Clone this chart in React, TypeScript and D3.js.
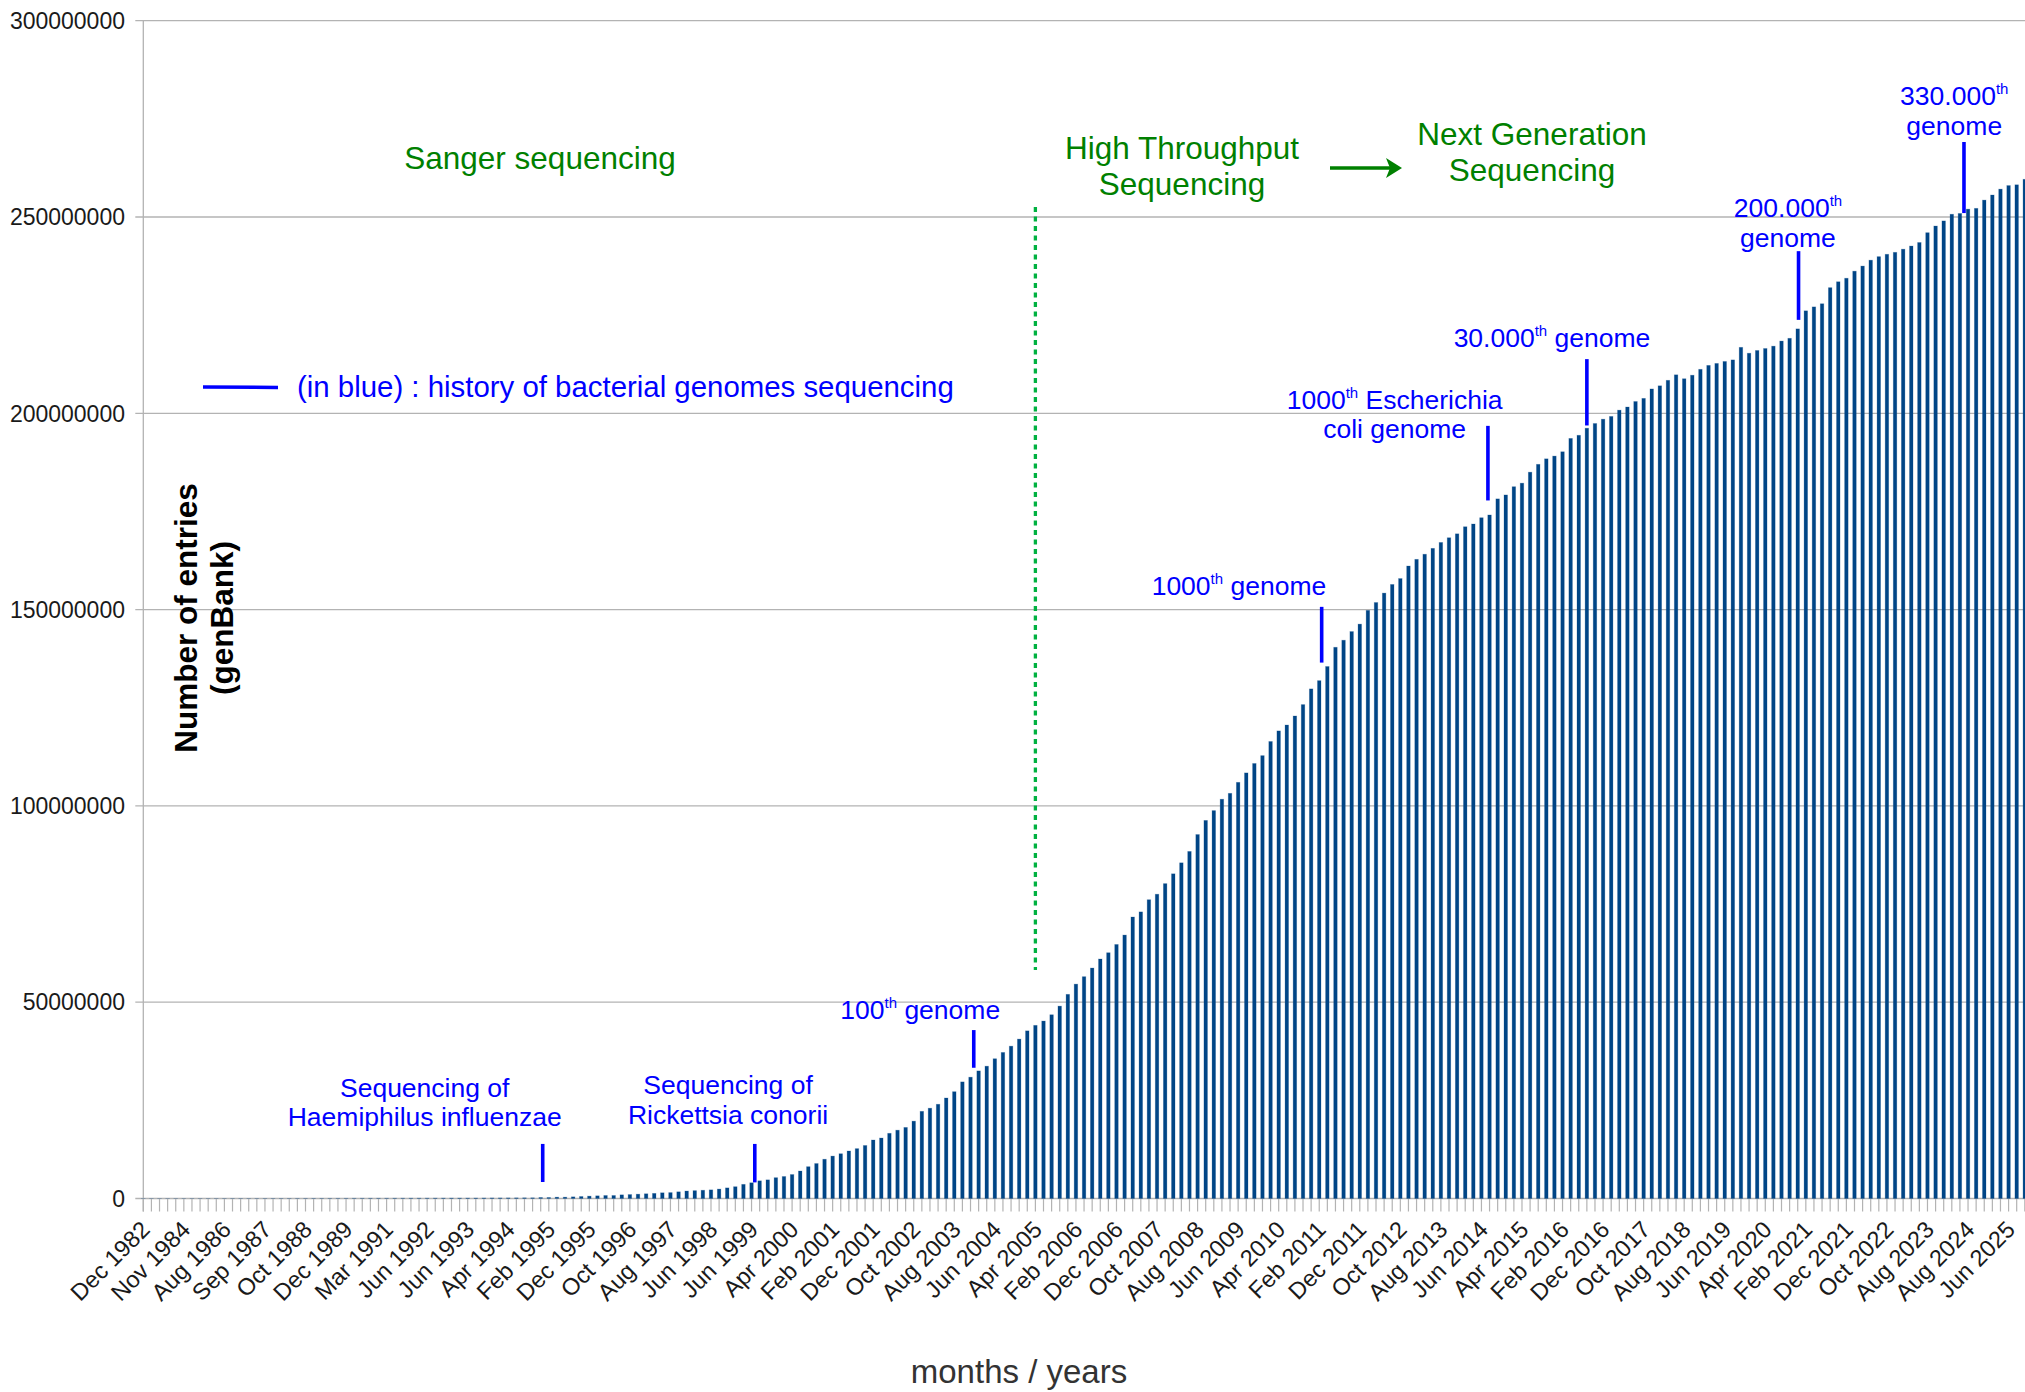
import React from 'react';
import * as d3 from 'd3';

const W = 2025;
const H = 1392;

// GenBank entries per release, in millions (one bar per release)
const ENTRIES_MILLIONS: number[] = [
  0.0006, 0.001, 0.002, 0.003, 0.004, 0.005, 0.006, 0.007, 0.009, 0.01,
  0.012, 0.014, 0.016, 0.018, 0.02, 0.022, 0.024, 0.026, 0.029, 0.031,
  0.034, 0.037, 0.04, 0.043, 0.046, 0.05, 0.054, 0.058, 0.062, 0.066,
  0.071, 0.076, 0.081, 0.086, 0.091, 0.096, 0.1, 0.105, 0.11, 0.115,
  0.12, 0.125, 0.13, 0.14, 0.145, 0.15, 0.16,
  0.17, 0.17, 0.25, 0.25, 0.34, 0.34, 0.42, 0.5, 0.6, 0.68,
  0.76, 0.76, 0.93, 1.0, 1.1, 1.2, 1.3, 1.45, 1.5, 1.7,
  1.9, 2.0, 2.1, 2.2, 2.4, 2.7, 3.0, 3.6, 4.0, 4.5,
  4.75, 5.3, 5.6, 6.1, 7.0, 8.1, 8.9, 10.0, 10.8, 11.4,
  12.1, 12.7, 13.5, 14.9, 15.4, 16.6, 17.4, 18.1, 19.7, 22.2,
  23.0, 24.0, 25.6, 27.2, 29.7, 30.9, 32.5, 33.7, 35.6, 37.2,
  38.8, 40.6, 42.7, 44.1, 45.2, 46.8, 49.0, 52.0, 54.6, 56.5,
  58.7, 61.0, 62.6, 64.7, 67.1, 71.7, 73.0, 76.1, 77.5, 80.2,
  82.7, 85.5, 88.4, 92.7, 96.3, 98.8, 101.7, 103.2, 106.0, 108.4,
  110.8, 112.8, 116.4, 119.1, 120.6, 122.9, 125.8, 129.8, 131.9, 135.5,
  140.4, 142.2, 144.4, 146.3, 149.8, 151.8, 154.2, 156.4, 157.9, 161.1,
  162.8, 164.1, 165.6, 167.1, 168.3, 169.3, 171.1, 171.8, 173.4, 174.1,
  178.2, 179.2, 181.3, 182.2, 185.0, 187.0, 188.4, 189.1, 190.2, 193.6,
  194.4, 196.2, 197.4, 198.5, 199.2, 200.8, 201.6, 203.0, 203.8, 206.2,
  207.0, 208.4, 209.8, 208.8, 209.7, 211.2, 212.2, 212.7, 213.2, 213.6,
  216.8, 215.3, 216.0, 216.5, 217.1, 218.4, 219.1, 221.5, 226.1, 227.1,
  227.9, 232.0, 233.5, 234.4, 236.2, 237.5, 239.0, 239.9, 240.5, 241.0,
  241.8, 242.6, 243.5, 246.0, 247.7, 249.0, 250.7, 250.9, 252.0, 252.2,
  254.3, 255.6, 257.1, 258.0, 258.2, 259.6,
];

// one label every 5 releases
const LABEL_EVERY = 5;
const RELEASE_LABELS: string[] = [
  'Dec 1982', 'Nov 1984', 'Aug 1986', 'Sep 1987', 'Oct 1988', 'Dec 1989', 'Mar 1991',
  'Jun 1992', 'Jun 1993', 'Apr 1994', 'Feb 1995', 'Dec 1995', 'Oct 1996', 'Aug 1997',
  'Jun 1998', 'Jun 1999', 'Apr 2000', 'Feb 2001', 'Dec 2001', 'Oct 2002', 'Aug 2003',
  'Jun 2004', 'Apr 2005', 'Feb 2006', 'Dec 2006', 'Oct 2007', 'Aug 2008', 'Jun 2009',
  'Apr 2010', 'Feb 2011', 'Dec 2011', 'Oct 2012', 'Aug 2013', 'Jun 2014', 'Apr 2015',
  'Feb 2016', 'Dec 2016', 'Oct 2017', 'Aug 2018', 'Jun 2019', 'Apr 2020', 'Feb 2021',
  'Dec 2021', 'Oct 2022', 'Aug 2023', 'Aug 2024', 'Jun 2025',
];

const Y_TICKS: number[] = [0, 50000000, 100000000, 150000000, 200000000, 250000000, 300000000];

// bacterial genome milestones: release position (fractional), text centre, marker span in millions
type Milestone = { at: number; textAt: number; textY: number; lines: string[]; top: number; bottom: number };

const MILESTONES: Milestone[] = [
  { at: 49.25, textAt: 34.7, textY: 25.9, lines: ['Sequencing of', 'Haemiphilus influenzae'], top: 13.9, bottom: 4.2 },
  { at: 75.4, textAt: 72.1, textY: 26.6, lines: ['Sequencing of', 'Rickettsia conorii'], top: 13.9, bottom: 4.1 },
  { at: 102.4, textAt: 95.8, textY: 45.7, lines: ['100{th} genome'], top: 42.9, bottom: 33.3 },
  { at: 145.3, textAt: 135.1, textY: 153.8, lines: ['1000{th} genome'], top: 150.7, bottom: 136.5 },
  { at: 165.8, textAt: 154.3, textY: 201.1, lines: ['1000{th} Escherichia', 'coli genome'], top: 196.8, bottom: 177.8 },
  { at: 178.0, textAt: 173.7, textY: 216.9, lines: ['30.000{th} genome'], top: 213.8, bottom: 196.9 },
  { at: 204.1, textAt: 202.8, textY: 250.0, lines: ['200.000{th}', 'genome'], top: 241.3, bottom: 223.8 },
  { at: 224.5, textAt: 223.3, textY: 278.5, lines: ['330.000{th}', 'genome'], top: 269.1, bottom: 251.0 },
];

const BLUE = '#0000ff';
const GREEN_TEXT = '#008000';
const GREEN_DOTS = '#00b140';
const GRID = '#b3b3b3';
const BAR = '#004586';
const SANS = '"Liberation Sans", Arial, sans-serif';

const LINE_H = 29.5;

function renderLine(line: string) {
  const parts = line.split(/\{(.*?)\}/);
  const out: React.ReactNode[] = [];
  let raised = false;
  parts.forEach((p, i) => {
    if (!p) return;
    if (i % 2 === 1) {
      out.push(<tspan key={i} dy={-11} fontSize={15}>{p}</tspan>);
      raised = true;
    } else {
      out.push(<tspan key={i} dy={raised ? 11 : 0}>{p}</tspan>);
      raised = false;
    }
  });
  return out;
}

export default function App() {
  const n = ENTRIES_MILLIONS.length;
  const x = d3.scaleLinear().domain([0, n - 1]).range([143.3, 2024.8]);
  const y = d3.scaleLinear().domain([0, 300000000]).range([1198.5, 20.7]);
  const barW = 3.5;
  const xLeft = x(0);
  const y0 = y(0);

  return (
    <svg
      width={W}
      height={H}
      viewBox={`0 0 ${W} ${H}`}
      style={{ position: 'absolute', left: 0, top: 0, background: '#fff' }}
    >
      <rect width={W} height={H} fill="#fff" />

      {/* grid */}
      {Y_TICKS.map((t) => (
        <g key={t}>
          <line x1={xLeft - 8} x2={W} y1={y(t)} y2={y(t)} stroke={GRID} strokeWidth={1.3} />
          <text
            x={125}
            y={y(t)}
            dy="0.36em"
            textAnchor="end"
            fontFamily={SANS}
            fontSize={23}
            fill="#1a1a1a"
          >
            {t}
          </text>
        </g>
      ))}
      <line x1={xLeft} x2={xLeft} y1={y(300000000)} y2={y0 + 13} stroke={GRID} strokeWidth={1.3} />

      {/* category ticks */}
      {d3.range(n).map((k) => (
        <line key={k} x1={x(k)} x2={x(k)} y1={y0} y2={y0 + 13} stroke={GRID} strokeWidth={1.2} />
      ))}

      {/* bars */}
      {ENTRIES_MILLIONS.map((v, k) => {
        const top = y(v * 1e6);
        return (
          <rect
            key={k}
            x={x(k) - barW / 2}
            y={top}
            width={barW}
            height={Math.max(0, y0 - top)}
            fill={BAR}
            stroke="rgba(0,69,134,0.3)"
            strokeWidth={0.8}
          />
        );
      })}

      {/* x tick labels */}
      {RELEASE_LABELS.map((lab, i) => (
        <text
          key={lab + i}
          transform={`translate(${x(i * LABEL_EVERY) + 8},${1231}) rotate(-45)`}
          textAnchor="end"
          fontFamily={SANS}
          fontSize={23.5}
          fill="#1a1a1a"
        >
          {lab}
        </text>
      ))}

      {/* axis titles */}
      <text x={1019} y={1383} textAnchor="middle" fontFamily={SANS} fontSize={33} fill="#333">
        months / years
      </text>
      <g fontFamily={SANS} fontSize={31.5} fontWeight="bold" fill="#000" textAnchor="middle">
        <text transform="translate(197,618) rotate(-90)">Number of entries</text>
        <text transform="translate(233,618) rotate(-90)">(genBank)</text>
      </g>

      {/* sequencing eras */}
      <line
        x1={x(110)}
        x2={x(110)}
        y1={207}
        y2={970}
        stroke={GREEN_DOTS}
        strokeWidth={3.3}
        strokeDasharray="5 4.5"
      />
      <g fontFamily={SANS} fontSize={31.5} fill={GREEN_TEXT} textAnchor="middle">
        <text x={540} y={169}>Sanger sequencing</text>
        <text x={1182} y={159}>High Throughput</text>
        <text x={1182} y={195}>Sequencing</text>
        <text x={1532} y={145}>Next Generation</text>
        <text x={1532} y={181}>Sequencing</text>
      </g>
      <line x1={1330} x2={1390} y1={168} y2={168} stroke={GREEN_TEXT} strokeWidth={3.5} />
      <path d="M1386,158 L1402,168 L1386,178 L1390,168 Z" fill={GREEN_TEXT} />

      {/* legend */}
      <line x1={203} x2={278} y1={387} y2={387.5} stroke={BLUE} strokeWidth={3.5} />
      <text x={297} y={397} fontFamily={SANS} fontSize={29.4} fill={BLUE}>
        (in blue) : history of bacterial genomes sequencing
      </text>

      {/* genome milestones */}
      {MILESTONES.map((m, i) => (
        <g key={i}>
          <line
            x1={x(m.at)}
            x2={x(m.at)}
            y1={y(m.top * 1e6)}
            y2={y(m.bottom * 1e6)}
            stroke={BLUE}
            strokeWidth={3.6}
          />
          {m.lines.map((ln, j) => (
            <text
              key={j}
              x={x(m.textAt)}
              y={y(m.textY * 1e6) + j * LINE_H}
              textAnchor="middle"
              fontFamily={SANS}
              fontSize={26.5}
              fill={BLUE}
            >
              {renderLine(ln)}
            </text>
          ))}
        </g>
      ))}
    </svg>
  );
}
